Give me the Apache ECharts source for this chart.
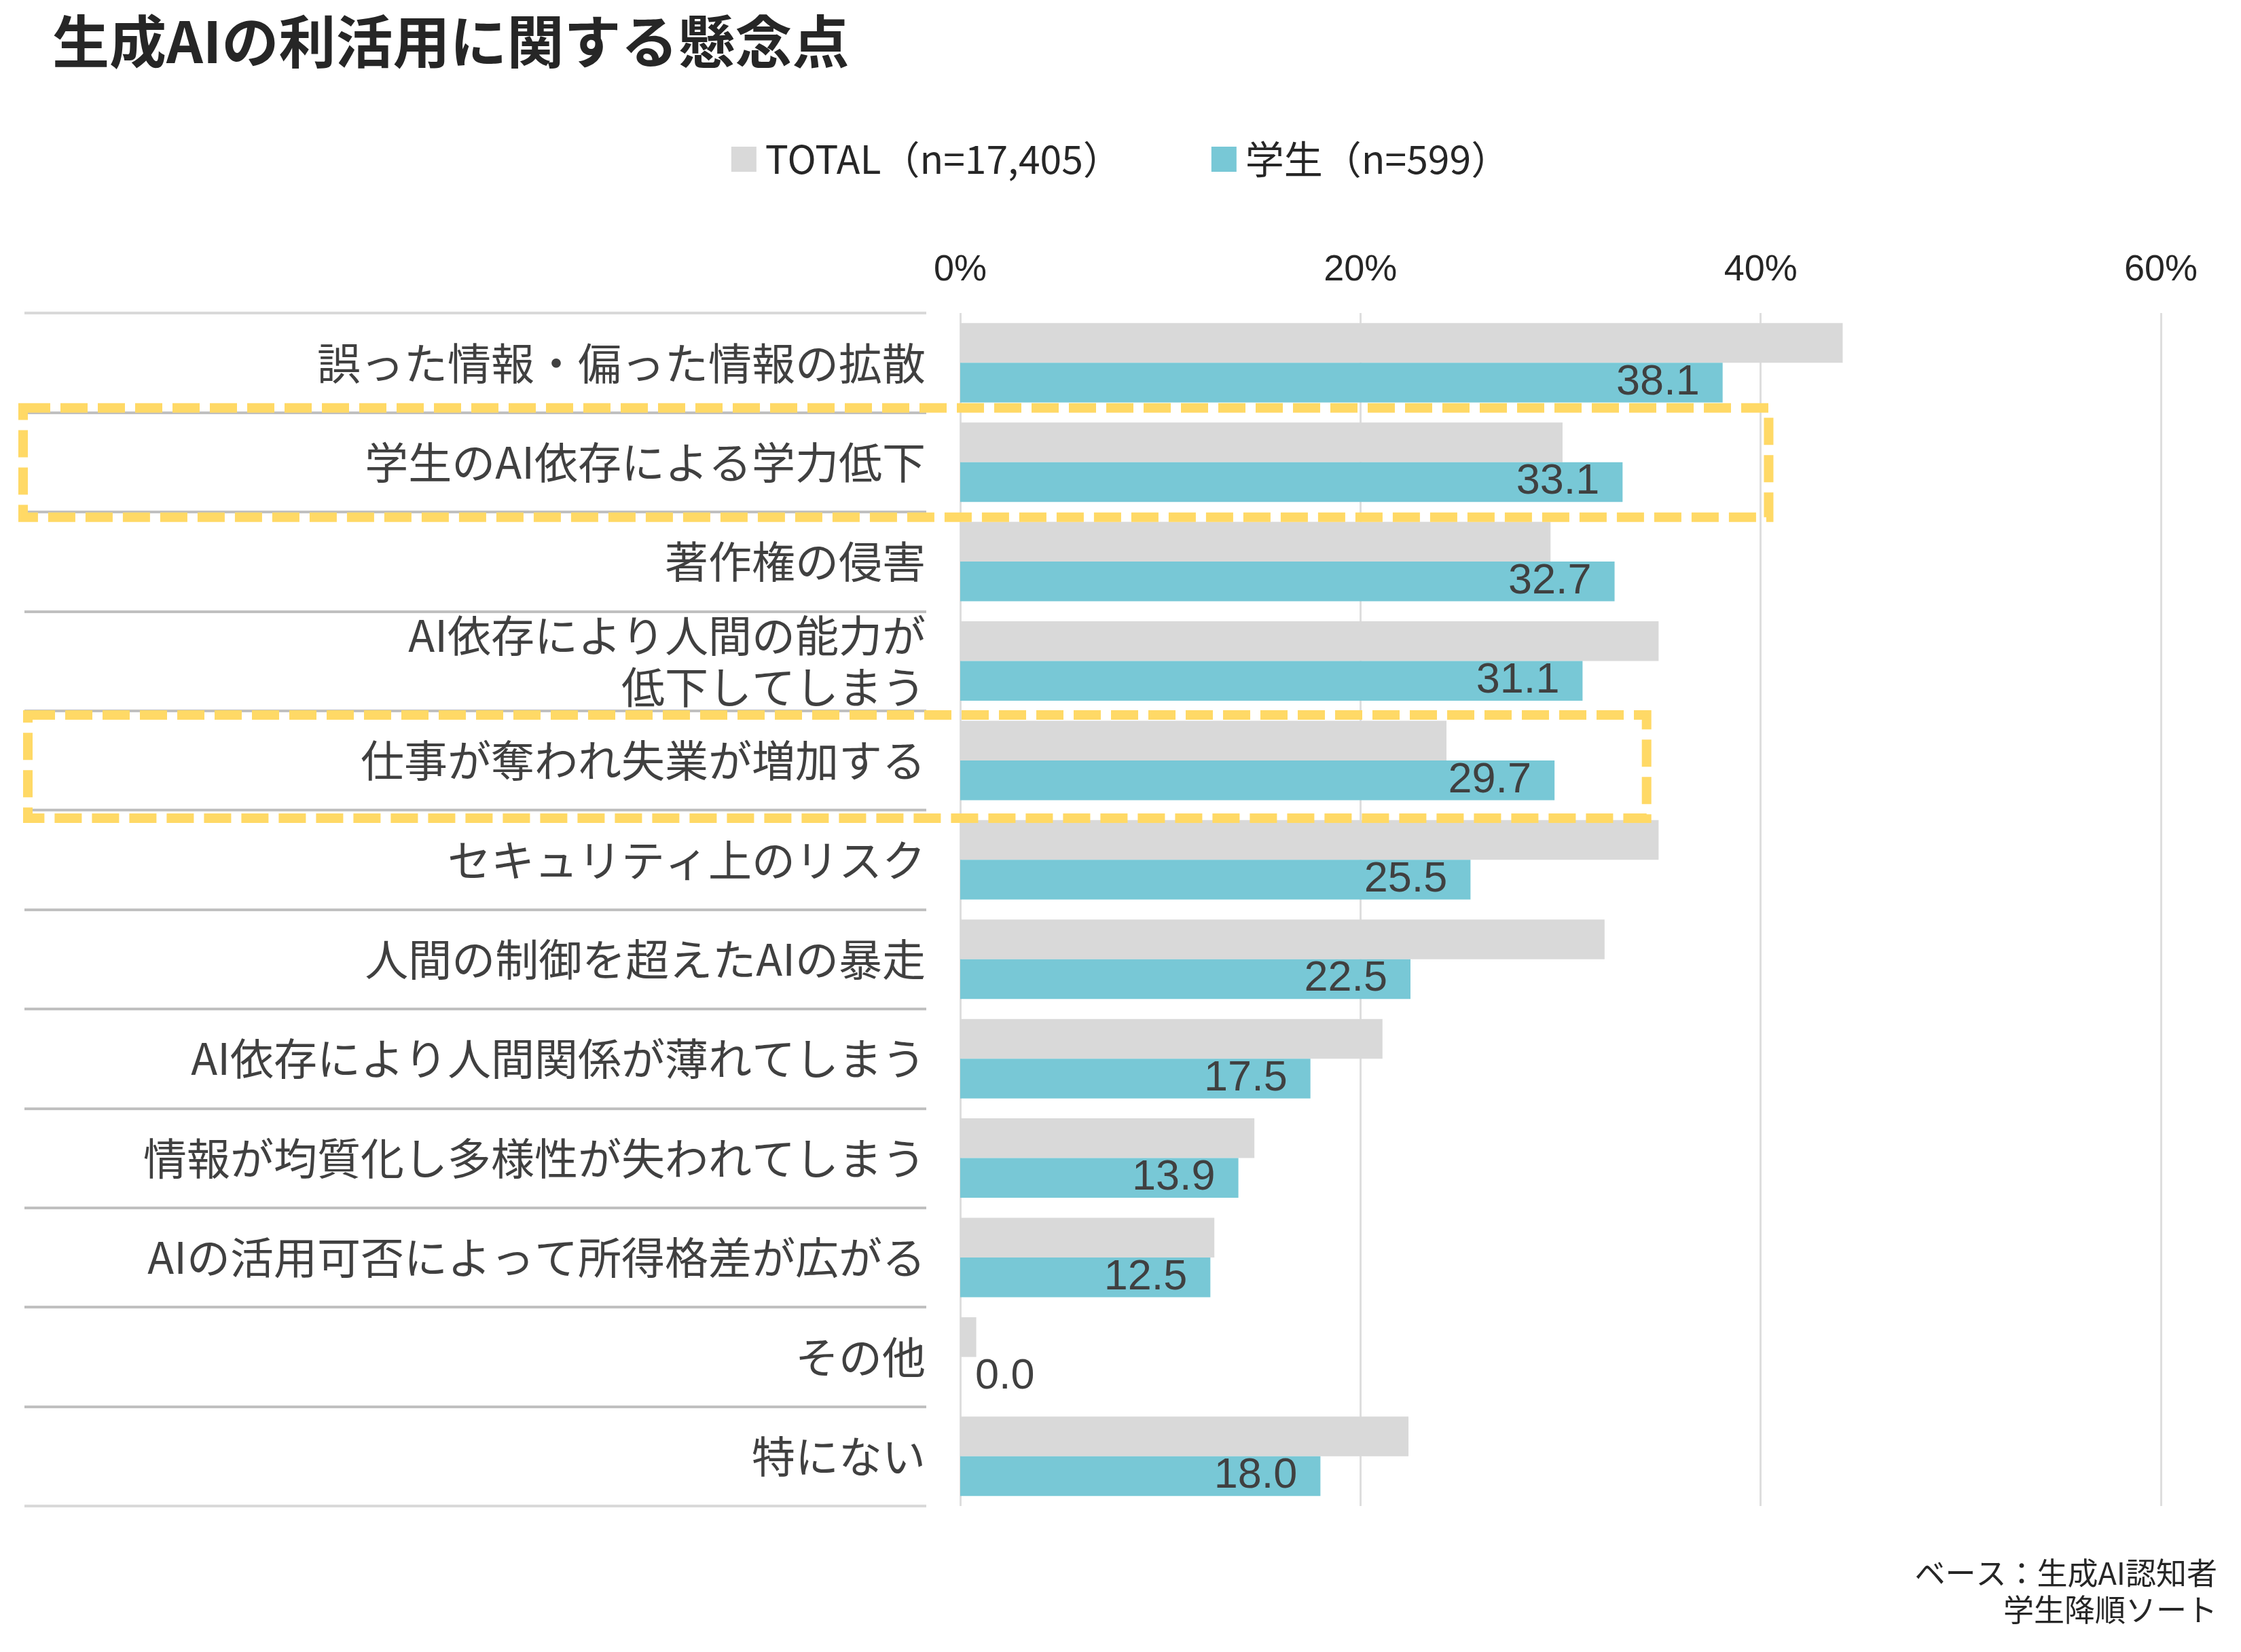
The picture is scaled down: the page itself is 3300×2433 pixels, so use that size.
<!DOCTYPE html>
<html>
<head>
<meta charset="utf-8">
<script src="https://cdn.jsdelivr.net/npm/echarts@6/dist/echarts.min.js"></script>
<style>
html,body{margin:0;padding:0;background:#fff;}
#chart{width:3300px;height:2433px;}
</style>
</head>
<body>
<div id="chart"></div>
<script>
const titleText = '生成AIの利活用に関する懸念点';
const categories = [
  '誤った情報・偏った情報の拡散',
  '学生のAI依存による学力低下',
  '著作権の侵害',
  'AI依存により人間の能力が\n低下してしまう',
  '仕事が奪われ失業が増加する',
  'セキュリティ上のリスク',
  '人間の制御を超えたAIの暴走',
  'AI依存により人間関係が薄れてしまう',
  '情報が均質化し多様性が失われてしまう',
  'AIの活用可否によって所得格差が広がる',
  'その他',
  '特にない'
];
const seriesNames = ['TOTAL（n=17,405）', '学生（n=599）'];
const totalValues = [44.1, 30.1, 29.5, 34.9, 24.3, 34.9, 32.2, 21.1, 14.7, 12.7, 0.8, 22.4];
const studentValues = [38.1, 33.1, 32.7, 31.1, 29.7, 25.5, 22.5, 17.5, 13.9, 12.5, 0.0, 18.0];
const axisTicks = [0, 20, 40, 60];
const noteLines = ['ベース：生成AI認知者', '学生降順ソート'];
// highlighted rows (category index) and right end of box in axis value
const highlightRows = [1, 4];
const highlightRight = [40.4, 34.3];

const JP = '"Noto Sans CJK JP", "Noto Sans", sans-serif';
const NUM = '"Liberation Sans", Arial, sans-serif';

const chart = echarts.init(document.getElementById('chart'), null, {renderer: 'canvas'});

const studentData = studentValues.map(v => v === 0
  ? {value: v, label: {position: 'right', distance: 22}}
  : v);

// separator colours: outer lines lighter
const sepColors = categories.map((c, i) => i === 0 ? '#d9d9d9' : '#c0c0c0').concat(['#d9d9d9']);

const option = {
  backgroundColor: '#ffffff',
  animation: false,
  title: {
    text: titleText,
    left: 72,
    top: 14,
    textStyle: {fontFamily: JP, fontSize: 84, fontWeight: 'bold', color: '#262626'}
  },
  legend: {
    top: 201,
    left: 'center',
    itemWidth: 37,
    itemHeight: 37,
    itemGap: 132,
    icon: 'rect',
    textStyle: {fontFamily: JP, fontSize: 57, color: '#262626', padding: [0, 0, 0, 8]},
    data: seriesNames
  },
  grid: [
    {left: 1414, right: 118, top: 461, bottom: 215, containLabel: false},
    {left: 36, width: 1328, top: 461, bottom: 215, containLabel: false}
  ],
  xAxis: [
    {
      type: 'value',
      position: 'top',
      min: axisTicks[0],
      max: axisTicks[axisTicks.length - 1],
      interval: axisTicks[1] - axisTicks[0],
      axisLine: {show: false},
      axisTick: {show: false},
      axisLabel: {formatter: '{value}%', fontFamily: NUM, fontSize: 54, color: '#262626', margin: 36},
      splitLine: {show: true, lineStyle: {color: '#dedede', width: 3}}
    },
    {
      type: 'value', gridIndex: 1, min: 0, max: 1, show: false
    }
  ],
  yAxis: [
    {
      type: 'category',
      inverse: true,
      data: categories,
      axisLine: {show: false},
      axisTick: {show: false},
      axisLabel: {fontFamily: JP, fontSize: 64, color: '#404040', margin: 51, lineHeight: 76, align: 'right'}
    },
    {
      type: 'category',
      gridIndex: 1,
      inverse: true,
      data: categories,
      axisLine: {show: false},
      axisTick: {show: false},
      axisLabel: {show: false},
      splitLine: {show: true, interval: 0, lineStyle: {color: sepColors, width: 4}}
    }
  ],
  series: [
    {
      name: seriesNames[0],
      type: 'bar',
      data: totalValues,
      barWidth: 58.5,
      barGap: '0%',
      itemStyle: {color: '#d9d9d9'},
      z: 2
    },
    {
      name: seriesNames[1],
      type: 'bar',
      data: studentData,
      barWidth: 58.5,
      barGap: '0%',
      itemStyle: {color: '#78c8d6'},
      label: {
        show: true,
        position: 'insideRight',
        distance: 34,
        fontFamily: NUM,
        fontSize: 63,
        color: '#404040',
        formatter: p => Number(p.value).toFixed(1)
      },
      z: 2
    }
  ]
};
chart.setOption(option);

// highlight boxes positioned from the axes
const graphics = highlightRows.map((row, i) => {
  const yc = chart.convertToPixel({yAxisIndex: 0}, row);
  const xr = chart.convertToPixel({xAxisIndex: 0}, highlightRight[i]);
  const top = i === 0 ? yc - 80 : yc - 67;
  const bot = i === 0 ? yc + 81 : yc + 85;
  const left = i === 0 ? 34 : 41;
  return {
    type: 'rect',
    z: 100,
    shape: {x: left, y: top, width: xr - left, height: bot - top},
    style: {fill: 'none', stroke: '#ffd966', lineWidth: 14, lineDash: [40, 15]}
  };
});
noteLines.forEach((line, i) => {
  graphics.push({
    type: 'text',
    x: chart.getWidth() - 35,
    y: 2294 + i * 54,
    z: 100,
    style: {
      text: line,
      fontFamily: JP,
      fontSize: 45,
      fill: '#262626',
      align: 'right',
      verticalAlign: 'top'
    }
  });
});
chart.setOption({graphic: graphics});
</script>
</body>
</html>
